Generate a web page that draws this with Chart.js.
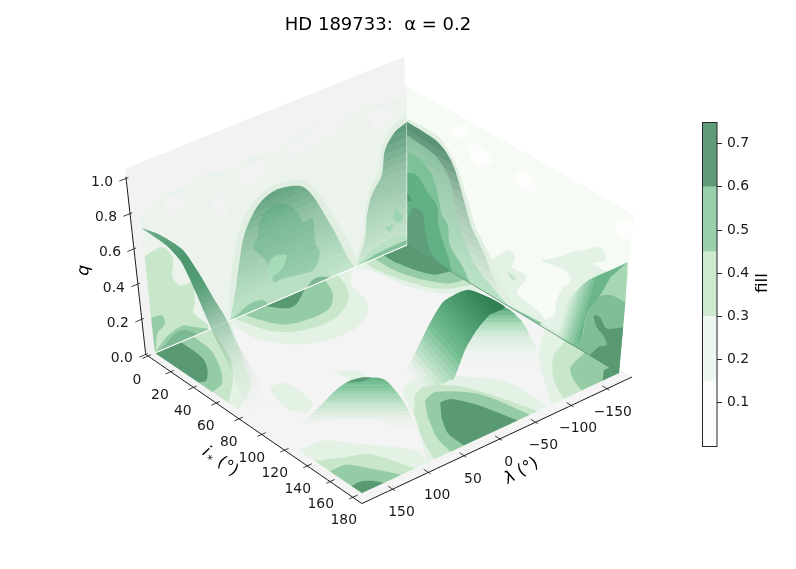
<!DOCTYPE html>
<html>
<head>
<meta charset="utf-8">
<title>HD 189733</title>
<script src="https://cdn.jsdelivr.net/npm/chart.js@4/dist/chart.umd.min.js"></script>
<style>
body { margin: 0; background: #fff; overflow: hidden; }
canvas { position: absolute; top: 0; left: 0; }
#barChart { left: 692px; top: 112px; }
</style>
</head>
<body>
<canvas id="mainChart" width="756" height="569"></canvas>
<canvas id="barChart" width="104" height="344"></canvas>
<script>
// Tick values
const iTicks = [0, 20, 40, 60, 80, 100, 120, 140, 160, 180];
const lambdaTicks = [-150, -100, -50, 0, 50, 100, 150];
const qTicks = [0, 0.2, 0.4, 0.6, 0.8, 1];
const fillTicks = [0.1, 0.2, 0.3, 0.4, 0.5, 0.6, 0.7];
const fillEdges = [0, 0.15, 0.3, 0.45, 0.6, 0.75];

// Floor contours at q = 0, points are [i*, lambda]
const floorPale = [
  [[0,180],[0,72],[37,115],[59,140],[73,180]],
  [[0,76],[21,74],[38,55],[48,24],[50,-20],[42,-54],[31,-70],[14,-78],[0,-101]],
  [[0,-180],[0,-103],[10,-116],[34,-124],[52,-142],[64,-180]],
  [[180,-180],[117,-180],[139,-134],[161,-108],[180,-85]],
  [[113,13],[111,-10],[122,-42],[146,-79],[180,-81],[180,89],[146,48],[119,23]],
  [[125,180],[126,148],[143,119],[167,83],[180,89],[180,180]],
  [[66,124],[67,108],[82,104],[95,112],[98,128],[88,138],[71,130]],
  [[76,52],[82,32],[91,29],[89,46]]
];
const floorLight = [
  [[0,180],[0,100],[10,107],[30,122],[47,146],[64,180]],
  [[0,66],[23,50],[33,20],[34,-20],[26,-52],[14,-71],[0,-81]],
  [[0,-180],[0,-121],[8,-120],[30,-130],[48,-148],[56,-180]],
  [[180,-180],[135,-180],[142,-151],[160,-121],[180,-102]],
  [[123,13],[120,-4],[131,-33],[150,-49],[180,-66],[180,79],[159,62],[137,37]],
  [[139,180],[147,148],[154,124],[180,106],[180,180]]
];
const floorMid = [
  [[0,180],[0,125],[17,128],[36,145],[47,162],[50,180]],
  [[0,52],[8,47],[22,30],[26,-1],[24,-30],[13,-52],[0,-63]],
  [[0,-180],[0,-134],[14,-134],[31,-143],[46,-161],[49,-180]],
  [[180,-180],[151,-180],[158,-148],[170,-134],[180,-128]],
  [[131,12],[128,-7],[146,-41],[180,-55],[180,56],[165,50],[145,31]],
  [[152,180],[153,158],[165,142],[180,125],[180,180]]
];
const floorDark = [
  [[0,180],[0,143],[20,145],[31,156],[39,171],[38,180]],
  [[0,23],[10,6],[9,-8],[0,-34]],
  [[0,-146],[0,-180],[37,-180],[34,-162],[23,-152],[10,-146]],
  [[172,-180],[180,-180],[180,-157],[172,-172]],
  [[138,2],[139,-11],[153,-25],[180,-38],[180,37],[165,35],[150,20]],
  [[171,180],[171,166],[176,154],[180,150],[180,180]]
];

// Back wall at i* = 0, points are [lambda, q]
const wallOneTop = [[180,0.9],[180,0.78],[150,0.85],[120,0.84],[90,0.87],[60,0.83],[30,0.86],[0,0.83],[-30,0.87],[-60,0.88],[-90,0.86],[-120,0.88],[-150,0.86],[-180,0.85],[-180,0.9]];
const wallOneLow = [[148,0.815],[126,0.807],[121,0.73],[142,0.72]];
const wallOneLowB = [[88,0.695],[76,0.73],[66,0.63],[67,0.56]];
const wallOneLowC = [[-18,0.82],[-49,0.859],[-85,0.872],[-93,0.818],[-58,0.788],[-25,0.747]];
const wallOneLowD = [[49,0.815],[8,0.803],[24,0.717],[48,0.718]];
const wallOneLowE = [[-126,0.842],[-153,0.83],[-161,0.759],[-134,0.731]];
const wallOneLight = [[180,0.55],[156,0.56],[143,0.48],[146,0.375],[137,0.31],[120,0.295],[119,0.18],[122,0.13],[104,0.03],[104,0],[180,0]];
const wallOneMidA = [[180,0.2],[166,0.19],[162,0.14],[174,0.1],[178,0.03],[180,0]];
const wallOneMidB = [[180,0],[163,0.057],[149,0.08],[136,0.083],[124,0.053],[101,0]];
const wallOneDarkA = [[172,0],[148,0.06],[135,0.055],[118,0]];
const bumpOneLambda = [73,62.6,53,43.6,23.6,-0.7,-34.6,-49.4,-66,-83,-96,-106];
const bumpOneQ = [0,0.147,0.324,0.455,0.574,0.618,0.583,0.507,0.364,0.205,0.069,0];
const bumpOneHaloLambda = [73,70,60,50,28,-2,-38,-54,-72,-90,-104,-110];
const bumpOneHaloQ = [0,0.17,0.35,0.49,0.61,0.65,0.61,0.53,0.39,0.23,0.09,0];
const bumpOneInner = [[26.6,0.409],[23,0.477],[8,0.536],[-12,0.524],[-28,0.447],[-36,0.376],[-49,0.376],[-51,0.237],[-57,0.164],[-47,0.085],[-11,0.1],[7,0.103],[17,0.24],[35,0.349]];
const bumpOnePatch = [[17,0.183],[9.4,0.249],[-10.4,0.232],[-4.3,0.169],[14.8,0.133]];
const bumpOneFoot = [[73,0],[50,0.08],[26,0.08],[11,0.1],[0,0.11],[-29,0.09],[-63,0.06],[-74,0]];
const bumpOneSliverA = [[70,0],[45,0.045],[26,0.04],[18,0]];
const bumpOneSliverB = [[-36,0],[-45,0.03],[-55,0.032],[-72,0]];
const bumpTwoLambda = [-108,-121,-124,-131,-145,-150,-163.5,-180];
const bumpTwoQ = [0,0.14,0.265,0.367,0.456,0.592,0.67,0.7];
const bumpTwoHaloLambda = [-104,-118,-121,-127,-141,-147,-162,-180,-180];
const bumpTwoHaloQ = [0,0.16,0.29,0.39,0.49,0.63,0.71,0.74,0];
const bumpTwoFoot = [[-108,0],[-120,0.03],[-135,0.06],[-160,0.08],[-180,0.06],[-180,0]];
const bumpTwoSliver = [[-112,0],[-140,0.025],[-180,0.03],[-180,0]];
const bumpTwoPatchA = [[-163.5,0.244],[-174.6,0.168],[-167.4,0.147],[-160,0.193]];
const bumpTwoPatchB = [[-149,0.15],[-160,0.148],[-156,0.109]];

// Side wall at lambda = -180, points are [i*, q]
const wallTwoWhite = [
  [[49,0.777],[59,0.794],[69,0.746],[59,0.682],[51,0.706]],
  [[86,0.756],[96,0.803],[103.5,0.719],[91,0.682]],
  [[34,0.804],[50,0.885],[45,0.795],[37,0.762]],
  [[165,0.792],[178.6,0.864],[180,0.756],[171,0.738]]
];
const wallTwoPaleA = [[180,0],[125,0],[125,0.18],[129,0.27],[136,0.35],[130,0.385],[120,0.37],[111,0.36],[124,0.43],[134,0.5],[147,0.57],[157,0.62],[162,0.57],[152,0.51],[167,0.52],[180,0.59]];
const wallTwoPaleB = [[61,0],[61,0.145],[74,0.23],[84,0.31],[90,0.295],[88,0.23],[100,0.224],[93,0.104],[112,0.068],[127,0]];
const wallTwoSpot = [[85,0.19],[91,0.18],[90,0.16],[85,0.17]];
const bumpThreeI = [0,22.5,32,39,46,53.5,63,70,81.5];
const bumpThreeQ = [0.7,0.69,0.653,0.584,0.457,0.318,0.225,0.14,0];
const bumpThreeHalo = [[0,0],[0,0.72],[24,0.72],[34,0.67],[41,0.6],[49,0.47],[57,0.33],[67,0.24],[74,0.16],[88,0.03],[90,0]];
const bumpThreeLight = [[0,0],[0,0.625],[23,0.6],[35,0.51],[40,0.36],[46,0.24],[57,0.12],[74,0.045],[87,0]];
const bumpThreeMid = [[0,0],[0,0.53],[11,0.53],[20.5,0.48],[25.5,0.39],[29,0.29],[34,0.25],[36,0.145],[46.5,0.07],[53.5,0]];
const bumpThreeStrong = [[0,0],[0,0.41],[8,0.43],[17,0.37],[25,0.32],[26,0.23],[29.5,0.15],[35,0.07],[38,0]];
const bumpThreeDark = [[0,0],[0,0.14],[5,0.23],[13,0.236],[15,0.147],[19.5,0.05],[26,0.015],[36,0]];
const bumpThreeSpot = [[0,0.3],[4,0.27],[0,0.244]];
const wallTwoSliver = [[81,0],[100,0.012],[125,0.024],[140,0.03],[155,0]];
const cornerLight = [[179,0.625],[167,0.494],[159,0.348],[163,0.375],[170,0.4],[180,0.4]];
const cornerMid = [[180,0],[139,0],[148,0.08],[149,0.176],[152,0.246],[159,0.348],[163,0.375],[170,0.4],[180,0.4]];
const cornerDark = [[180,0],[155,0],[162,0.076],[168,0.11],[166,0.144],[159,0.176],[156,0.23],[161,0.24],[167,0.2],[180,0.26]];
const cornerEdgeTop = [[179,0.625],[166,0.527],[150,0.408],[141,0.313],[132,0.205],[124,0.105],[113,0]];
const cornerEdgeLow = [[179,0.625],[167,0.494],[159,0.348],[152,0.246],[149,0.176],[148,0.08],[141,0]];

// Free standing surfaces, points are [i*, lambda, q]
const ribbonLambda = 180;
const ribbonEdgeA = [[0,0.71],[21,0.7],[32,0.66],[42,0.54],[49,0.44],[54,0.37],[61,0.29],[69,0.2],[77,0.085],[84,0]];
const ribbonEdgeB = [[0,0.71],[15,0.74],[34,0.74],[47,0.66],[60,0.55],[68,0.49],[74.5,0.4],[85.5,0.31],[95,0.21],[105,0.085]];
const ribbonAlpha = [0.7,0.85,0.95,0.85,0.6,0.4,0.2,0.08,0.02,0];
const frontI = [130.5,137.7,143.8,149.3,156.1,160.3,164.4,167.8,171.3,175.2];
const frontLambda = [186,168.8,154.7,141.6,125.6,115.8,106.2,98.1,89.8,80.6];
const frontQTop = [0.18,0.284,0.38,0.4375,0.449,0.4375,0.369,0.284,0.159,0.011];
const frontQLow = [0.18,0.2,0.21,0.216,0.21,0.1875,0.142,0.097,0.057,0.011];
const frontSpot = [[147.6,145.8,0.42],[152.5,134,0.449],[155.5,127,0.449],[152.5,134,0.426]];
const archCrest = [[131.6,41.2,0.216],[134.4,34.6,0.301],[140.1,21.2,0.494],[144.5,10.9,0.614],[150.1,-2.3,0.67],[153.5,-10.2,0.682],[160.3,-26.2,0.636],[165.5,-38.5,0.58]];
const archFoot = [[136.2,30.4,0.057],[140.4,20.6,0.102],[143.9,12.4,0.142],[146,7.5,0.159],[147,5,0.17],[148,2.6,0.17],[148.7,0.9,0.182],[149,0.2,0.1875]];
const archInnerTop = [[149,0.2,0.1875],[152.3,-7.5,0.341],[156.2,-16.7,0.4545],[160.5,-26.7,0.54],[165.5,-38.5,0.58],[170.8,-50.9,0.511],[174.5,-59.7,0.415],[178.4,-68.8,0.284],[181.7,-76.6,0.131],[185.2,-84.9,0.04]];
const archInnerLow = [[149.1,0,0.142],[153.6,-10.6,0.182],[157.7,-20.2,0.216],[161.9,-30,0.227],[166.4,-40.7,0.216],[170.6,-50.5,0.216],[174.2,-59,0.182],[177.8,-67.5,0.142],[181.9,-77,0.085],[185.2,-84.9,0.04]];

const colors = {
  pale: '#e4f1e5', light: '#c8e6ca', mid: '#95cca5', dark: '#5a9a73',
  pane: '#f1f2f1', floor: '#f3f4f3', wallOne: '#ebf3ec', wallTwo: '#f6fbf5'
};
const barColors = ['#fcfefc', '#edf7ef', '#cdeace', '#9acfab', '#5f9b79'];

// Camera: floor corners in pixels, lift per unit q, lean of the verticals
const corner = { x: [155, 362, 407, 619], y: [353, 493, 245, 373] };
const liftPerQ = 176, leanPerQ = 0.075, leanCenter = 407;

function project(i, lam, q) {
  const u = i / 180, v = (180 - lam) / 360;
  const fx = corner.x[0]*(1-u)*(1-v) + corner.x[1]*u*(1-v) + corner.x[2]*(1-u)*v + corner.x[3]*u*v;
  const fy = corner.y[0]*(1-u)*(1-v) + corner.y[1]*u*(1-v) + corner.y[2]*(1-u)*v + corner.y[3]*u*v;
  return { x: fx + q * leanPerQ * (fx - leanCenter), y: fy - liftPerQ * q };
}
const point3 = p => project(p[0], p[1], p[2]);

const mainCtx = document.getElementById('mainChart').getContext('2d');
const datasets = [];

function addShape(points, color, tension) {
  datasets.push({
    data: points, showLine: true, fill: 'shape', backgroundColor: color,
    borderWidth: 0, pointRadius: 0, tension: tension === undefined ? 0.3 : tension
  });
}

function addLine(points, color, width) {
  datasets.push({
    data: points, showLine: true, fill: false, borderColor: color,
    borderWidth: width, pointRadius: 0, tension: 0.01
  });
}

// Points on the border of a plane are doubled so the curve keeps its corner there
function pinned(list, isEdge, toPoint) {
  const out = [];
  list.forEach(p => {
    out.push(toPoint(p));
    if (isEdge(p)) out.push(toPoint(p));
  });
  return out;
}

function floorShape(list, color) {
  addShape(pinned(list, p => p[0] === 0 || p[0] === 180 || Math.abs(p[1]) === 180,
    p => project(p[0], p[1], 0)), color);
}

function wallOneShape(list, color) {
  addShape(pinned(list, p => p[1] === 0 || Math.abs(p[0]) === 180,
    p => project(0, p[0], p[1])), color);
}

function wallTwoShape(list, color) {
  addShape(pinned(list, p => p[1] === 0 || p[0] === 0 || p[0] === 180,
    p => project(p[0], -180, p[1])), color);
}

function mix(a, b, t) {
  return a.map((c, k) => Math.round(c + (b[k] - c) * Math.min(1, Math.max(0, t))));
}

// Gradient in flat steps, the stripes of the surface. stops are [t, r, g, b, a]
function steppedFade(start, end, stops, steps) {
  const fade = mainCtx.createLinearGradient(start.x, start.y, end.x, end.y);
  const colorAt = t => {
    let k = 0;
    while (k < stops.length - 2 && t > stops[k + 1][0]) k++;
    const a = stops[k], b = stops[k + 1];
    const f = Math.min(1, Math.max(0, (t - a[0]) / (b[0] - a[0])));
    const c = a.slice(1).map((v, j) => v + (b[j + 1] - v) * f);
    return `rgba(${Math.round(c[0])},${Math.round(c[1])},${Math.round(c[2])},${c[3]})`;
  };
  for (let s = 0; s < steps; s++) {
    const color = colorAt((s + 0.5) / steps);
    fade.addColorStop(s / steps, color);
    fade.addColorStop((s + 1) / steps, color);
  }
  return fade;
}

// Bump standing on a wall: dark at the crest, lighter towards the foot line
function wallBump(plane, names, values, top, bottom) {
  const crest = names.map((n, k) => plane(n, values[k]));
  const n0 = names[0], n1 = names[names.length - 1];
  const first = point3(plane(n0, 0)), last = point3(plane(n1, 0));
  const high = values.indexOf(Math.max(...values));
  const peak = point3(crest[high]), under = point3(plane(names[high], 0));
  let nx = first.y - last.y, ny = last.x - first.x;
  const len = Math.hypot(nx, ny);
  nx /= len; ny /= len;
  const reach = (peak.x - under.x) * nx + (peak.y - under.y) * ny;
  const end = { x: under.x + nx * reach, y: under.y + ny * reach };
  const fade = steppedFade(end, under, [
    [0, ...top, 1], [0.35, ...mix(top, bottom, 0.5), 1], [1, ...bottom, 1]
  ], 16);
  // a crest that stops at the wall corner still has to come down to the foot line
  const outline = crest.map(point3);
  if (values[0] > 0) outline.unshift(first, first, outline[0]);
  if (values[values.length - 1] > 0) outline.push(outline[outline.length - 1], last, last);
  addShape(outline, fade, 0.3);
}

// Panes
addShape([project(-2, 190, 0), project(188, 193, 0), project(188, -185, 0), project(-2, -185, 0)], colors.floor, 0.01);

floorPale.forEach(p => floorShape(p, colors.pale));
floorLight.forEach(p => floorShape(p, colors.light));
floorMid.forEach(p => floorShape(p, colors.mid));
floorDark.forEach(p => floorShape(p, colors.dark));

// Low arch in front
const frontTop = frontI.map((v, k) => [v, frontLambda[k], frontQTop[k]]);
const frontLow = frontI.map((v, k) => [v, frontLambda[k], frontQLow[k]]);
const frontPeak = point3(frontTop[4]);
addShape(frontTop.map(point3).concat(frontLow.slice().reverse().map(point3)),
  steppedFade(frontPeak, { x: frontPeak.x, y: point3(frontLow[6]).y }, [
    [0, 100, 178, 134, 1], [0.25, 140, 205, 165, 0.95], [0.6, 205, 232, 212, 0.8], [1, 243, 244, 243, 0]
  ], 16), 0.3);
addShape(frontSpot.map(point3), colors.dark, 0.2);

// Tall arch, inner face first
const innerPeak = point3(archInnerTop[4]);
addShape(archInnerTop.map(point3).concat(archInnerLow.slice().reverse().map(point3)),
  steppedFade(innerPeak, { x: innerPeak.x, y: point3(archInnerLow[4]).y }, [
    [0, 90, 165, 120, 1], [0.1, 120, 190, 150, 1], [0.25, 170, 220, 185, 1], [0.45, 215, 236, 220, 0.95], [0.7, 238, 243, 238, 0.9], [1, 243, 244, 243, 0]
  ], 18), 0.25);
addShape(archCrest.map(point3)
  .concat(archInnerTop.slice(1, 4).reverse().map(point3))
  .concat(archFoot.slice().reverse().map(point3)),
  steppedFade(point3(archCrest[6]), point3(archCrest[0]), [
    [0, 45, 125, 80, 1], [0.3, 80, 160, 115, 1], [0.55, 115, 190, 145, 1], [0.8, 180, 222, 192, 0.8], [1, 230, 240, 232, 0]
  ], 22), 0.2);

addShape([project(-2, 190, 0), project(-2, 190, 1.05), project(-2, -180, 1.06), project(-2, -180, 0)], colors.pane, 0.01);

// Wall one
addShape([project(0, 180, 0), project(0, 180, 0.9), project(0, -180, 0.9), project(0, -180, 0)], colors.wallOne, 0.01);
wallOneShape(wallOneTop, colors.pane);
[wallOneLow, wallOneLowB, wallOneLowC, wallOneLowD, wallOneLowE].forEach(p => wallOneShape(p, colors.pane));
wallOneShape(wallOneLight, colors.light);
wallOneShape(wallOneMidA, colors.mid);
wallOneShape(wallOneMidB, colors.mid);
wallOneShape(wallOneDarkA, '#7cb892');

const wallOnePlane = (lam, q) => [0, lam, q];
wallOneShape(bumpOneHaloLambda.map((l, k) => [l, bumpOneHaloQ[k]]), '#e0efe2');
wallBump(wallOnePlane, bumpOneLambda, bumpOneQ, [100, 164, 128], [196, 230, 204]);
wallOneShape(bumpOneInner, 'rgba(70,160,110,0.28)');
wallOneShape(bumpOnePatch, 'rgba(175,225,190,0.75)');
wallOneShape(bumpOneFoot, '#b9e0c3');
wallOneShape(bumpOneSliverA, '#8cc8a1');
wallOneShape(bumpOneSliverB, '#7cb892');

wallOneShape(bumpTwoHaloLambda.map((l, k) => [l, bumpTwoHaloQ[k]]), '#e0efe2');
wallBump(wallOnePlane, bumpTwoLambda, bumpTwoQ, [90, 152, 120], [206, 234, 212]);
wallOneShape(bumpTwoFoot, '#b9e0c3');
wallOneShape(bumpTwoSliver, '#86c39c');
wallOneShape(bumpTwoPatchA, 'rgba(150,212,170,0.8)');
wallOneShape(bumpTwoPatchB, 'rgba(150,212,170,0.8)');

// Wall two
addShape([project(0, -180, 0), project(0, -180, 0.9), project(180, -180, 0.9), project(180, -180, 0)], colors.wallTwo, 0.01);
wallTwoWhite.forEach(p => wallTwoShape(p, '#fdfefc'));
wallTwoShape(wallTwoPaleA, colors.pale);
wallTwoShape(wallTwoPaleB, colors.pale);
wallTwoShape(wallTwoSpot, colors.light);
wallTwoShape(bumpThreeHalo, '#e0efe2');
const wallTwoPlane = (i, q) => [i, -180, q];
wallBump(wallTwoPlane, bumpThreeI, bumpThreeQ, [84, 142, 112], [226, 242, 228]);
wallTwoShape(bumpThreeLight, 'rgba(160,215,180,0.6)');
wallTwoShape(bumpThreeMid, 'rgba(118,190,146,0.8)');
wallTwoShape(bumpThreeStrong, 'rgba(94,174,130,0.9)');
wallTwoShape(bumpThreeDark, '#5e9e7b');
wallTwoShape(bumpThreeSpot, '#4e9a70');
wallTwoShape(wallTwoSliver, '#8fc9a3');

wallTwoShape(cornerLight, '#a5d7b3');
wallTwoShape(cornerMid, '#80be95');
wallTwoShape(cornerDark, colors.dark);
const cornerFrom = project(cornerEdgeTop[4][0], -180, cornerEdgeTop[4][1]);
const cornerTo = project(cornerEdgeLow[3][0], -180, cornerEdgeLow[3][1]);
addShape(cornerEdgeTop.concat(cornerEdgeLow.slice(1).reverse()).map(p => project(p[0], -180, p[1])),
  steppedFade(cornerFrom, cornerTo, [
    [0, 235, 245, 236, 0.9], [0.45, 170, 218, 186, 1], [1, 100, 178, 132, 1]
  ], 9), 0.25);

addLine([project(0, 180, 0), project(0, -180, 0)], '#ffffff', 1.2);
addLine([project(0, -180, 0), project(180, -180, 0)], 'rgba(70,130,95,0.7)', 1);
addLine([project(0, -180, 0), project(0, -180, 0.53)], 'rgba(255,255,255,0.35)', 1);

// Ribbon running from the wall down to the floor, one shape with a fade along it
const ribbonPoint = p => project(p[0], ribbonLambda, p[1]);
const ribbonStart = ribbonPoint(ribbonEdgeA[0]);
const ribbonEnd = ribbonPoint(ribbonEdgeA[ribbonEdgeA.length - 1]);
const ribbonFade = mainCtx.createLinearGradient(ribbonStart.x, ribbonStart.y, ribbonEnd.x, ribbonEnd.y);
const ribbonLength = (ribbonEnd.x - ribbonStart.x) ** 2 + (ribbonEnd.y - ribbonStart.y) ** 2;
ribbonEdgeA.forEach((p, k) => {
  const m = ribbonPoint(p);
  const along = ((m.x - ribbonStart.x) * (ribbonEnd.x - ribbonStart.x) + (m.y - ribbonStart.y) * (ribbonEnd.y - ribbonStart.y)) / ribbonLength;
  ribbonFade.addColorStop(Math.min(1, Math.max(0, along)), `rgba(64,145,100,${ribbonAlpha[k]})`);
});
addShape(ribbonEdgeA.map(ribbonPoint).concat(ribbonEdgeB.slice().reverse().map(ribbonPoint)), ribbonFade, 0.2);

// Axis lines and tick marks
const axisColor = '#1a1a1a';
addLine([project(-2, 190, 0), project(-2, 190, 1.01)], axisColor, 1);
addLine([project(-2, 190, 0), project(188, 193, 0)], axisColor, 1);
addLine([project(188, 193, 0), project(188, -185, 0)], axisColor, 1);
iTicks.forEach(v => addLine([project(v, 186, 0), project(v, 198, 0)], axisColor, 0.9));
lambdaTicks.forEach(v => addLine([project(184, v, 0), project(190, v, 0)], axisColor, 0.9));
qTicks.forEach(v => addLine([project(-2, 187, v), project(-2, 199, v)], axisColor, 0.9));

const tickFont = '13.9px "DejaVu Sans"';
const axisText = {
  id: 'axisText',
  afterDatasetsDraw(chart) {
    const { ctx, scales: { x, y } } = chart;
    const place = p => ({ x: x.getPixelForValue(p.x), y: y.getPixelForValue(p.y) });
    ctx.save();
    ctx.fillStyle = '#1a1a1a';
    ctx.font = tickFont;
    ctx.textAlign = 'center';
    ctx.textBaseline = 'middle';
    iTicks.forEach(v => {
      const p = place(project(v, 193, 0));
      ctx.fillText(String(v), p.x - 9, p.y + 23);
    });
    lambdaTicks.forEach(v => {
      const p = place(project(187, v, 0));
      ctx.fillText(String(v).replace('-', '\u2212'), p.x + (v < 0 ? 10 + v * 0.02 : 10), p.y + 24);
    });
    qTicks.forEach(v => {
      const p = place(project(-2, 190, v));
      ctx.fillText(v.toFixed(1), p.x - 24, p.y + 4);
    });

    ctx.fillStyle = '#000';
    ctx.textAlign = 'left';
    ctx.textBaseline = 'alphabetic';
    // i* label
    ctx.save();
    ctx.translate(205, 449);
    ctx.rotate(35 * Math.PI / 180);
    ctx.font = 'italic 16.7px "DejaVu Sans"';
    ctx.fillText('i', 0, 6);
    ctx.font = 'italic 11.7px "DejaVu Sans"';
    ctx.fillText('*', 6, 10);
    ctx.font = '16.7px "DejaVu Sans"';
    ctx.fillText('(\u00b0)', 18, 6);
    ctx.restore();
    // lambda label
    ctx.save();
    ctx.translate(508, 484);
    ctx.rotate(-30 * Math.PI / 180);
    ctx.font = 'italic 16.7px "DejaVu Sans"';
    ctx.fillText('\u03bb', 0, 0);
    ctx.font = '16.7px "DejaVu Sans"';
    ctx.fillText('(\u00b0)', 15, 0);
    ctx.restore();
    // q label
    ctx.save();
    ctx.translate(88, 276);
    ctx.rotate(-85 * Math.PI / 180);
    ctx.font = 'italic 16.7px "DejaVu Sans"';
    ctx.fillText('q', 0, 0);
    ctx.restore();
    ctx.restore();
  }
};

new Chart(mainCtx, {
  type: 'scatter',
  // first dataset is drawn on top, so hand them over reversed
  data: { datasets: datasets.slice().reverse() },
  options: {
    responsive: false,
    animation: false,
    events: [],
    layout: { padding: 0 },
    plugins: {
      legend: { display: false },
      tooltip: { enabled: false },
      title: {
        display: true,
        text: 'HD 189733:  \u03b1 = 0.2',
        color: '#000',
        font: { family: '"DejaVu Sans"', size: 18, weight: 'normal', lineHeight: 1.2 },
        padding: { top: 15, bottom: 3.4 }
      }
    },
    scales: {
      x: { type: 'linear', min: 0, max: 756, display: false },
      y: { type: 'linear', min: 40, max: 569, reverse: true, display: false }
    }
  },
  plugins: [axisText]
});

// Colour bar
const barOutline = {
  id: 'barOutline',
  afterDraw(chart) {
    const { ctx, chartArea: a } = chart;
    ctx.save();
    ctx.strokeStyle = '#262626';
    ctx.lineWidth = 1;
    ctx.strokeRect(a.left + 0.5, a.top + 0.5, a.right - a.left - 0.5, a.bottom - a.top);
    ctx.fillStyle = '#000';
    ctx.font = '16.7px "DejaVu Sans"';
    ctx.textAlign = 'center';
    ctx.translate(75, 171);
    ctx.rotate(-Math.PI / 2);
    ctx.fillText('fill', 0, 0);
    ctx.restore();
  }
};

new Chart(document.getElementById('barChart').getContext('2d'), {
  type: 'bar',
  data: {
    labels: ['fill'],
    datasets: barColors.map((c, k) => ({
      data: [[fillEdges[k], fillEdges[k + 1]]],
      backgroundColor: c,
      borderWidth: 0,
      barPercentage: 1,
      categoryPercentage: 1
    }))
  },
  options: {
    responsive: false,
    animation: false,
    events: [],
    layout: { padding: { left: 10, top: 10, bottom: 10 } },
    plugins: { legend: { display: false }, tooltip: { enabled: false } },
    scales: {
      x: { display: false, stacked: true },
      y: {
        position: 'right',
        min: 0,
        max: 0.75,
        afterBuildTicks(axis) { axis.ticks = fillTicks.map(v => ({ value: v })); },
        afterFit(axis) { axis.width = 79; axis.paddingTop = 0; axis.paddingBottom = 0; },
        grid: { drawOnChartArea: false, tickLength: 5, tickColor: '#262626' },
        border: { display: false },
        ticks: {
          color: '#1a1a1a',
          padding: 5,
          font: { family: '"DejaVu Sans"', size: 13.9 },
          callback: v => v.toFixed(1)
        }
      }
    }
  },
  plugins: [barOutline]
});
</script>
</body>
</html>
